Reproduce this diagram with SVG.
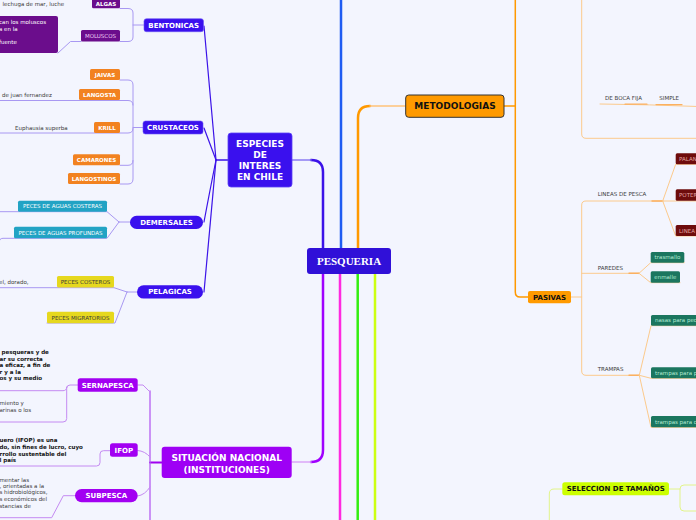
<svg xmlns="http://www.w3.org/2000/svg" width="696" height="520" viewBox="0 0 696 520">
<style>
.t{font-family:"DejaVu Sans","Liberation Sans",sans-serif}
.b{font-weight:bold}
.c{text-anchor:middle}
.s{font-size:5.5px}
.m{font-size:7px}
.l{font-size:9px}
.w{fill:#ffffff}
.g{fill:#3a3a3a}
.k{fill:#111111}
.ln{fill:none;stroke-linecap:round;stroke-linejoin:round}
.lv{stroke:#a898f2;stroke-width:1}
.lp{stroke:#c48af2;stroke-width:1}
.lo{stroke:#fcca8c;stroke-width:1}
.ly{stroke:#e2f48a;stroke-width:1}
</style>
<rect x="0" y="0" width="696" height="520" fill="#f3f5fe"/>
<g id="connectors">
  <path class="ln" d="M341,248 V0" stroke="#1f5cf2" stroke-width="2.5"/>
  <path class="ln" d="M358,248 V118 Q358,106 370,106" stroke="#ff9900" stroke-width="2.5"/>
  <path class="ln" d="M370,106 H405" stroke="#ffc27a" stroke-width="1.5"/>
  <path class="ln" d="M323,248 V172 Q323,160 311,160" stroke="#3b12e8" stroke-width="2.5"/>
  <path class="ln" d="M311,160 H292" stroke="#8c7cf2" stroke-width="1.5"/>
  <path class="ln" d="M323,274 V450 Q323,462 311,462" stroke="#a000ff" stroke-width="2.5"/>
  <path class="ln" d="M311,462 H292" stroke="#dba6f8" stroke-width="1.5"/>
  <path class="ln" d="M340,274 V522" stroke="#ff2ae0" stroke-width="2.5"/>
  <path class="ln" d="M357.7,274 V522" stroke="#33ee11" stroke-width="2.5"/>
  <path class="ln" d="M375,274 V522" stroke="#ccff11" stroke-width="2.5"/>

  <path class="ln" d="M228,160 H216" stroke="#3b12e8" stroke-width="1.5"/>
  <path class="ln" d="M216,160 L204,26" stroke="#3b12e8" stroke-width="1.2"/>
  <path class="ln" d="M216,160 L204,128" stroke="#3b12e8" stroke-width="1.2"/>
  <path class="ln" d="M216,160 Q209,195 204,222" stroke="#3b12e8" stroke-width="1.2"/>
  <path class="ln" d="M216,160 Q209,240 204,292" stroke="#3b12e8" stroke-width="1.2"/>

  <path class="ln lv" d="M144,25 H133"/>
  <path class="ln lv" d="M120,8.5 H128 Q133,8.5 133,13 V37 Q133,41.5 128,41.5 H120"/>
  <path class="ln lv" d="M81,41.5 H70.5 L58,53"/>

  <path class="ln lv" d="M143,127.5 H133"/>
  <path class="ln lv" d="M120,80 H128 Q133,80 133,85 V179 Q133,184 128,184 H120"/>
  <path class="ln lv" d="M-2,100.5 H128 Q133,100.5 133,105"/>
  <path class="ln lv" d="M-2,133 H128 Q133,133 133,128.5"/>
  <path class="ln lv" d="M120,165.3 H128 Q133,165.3 133,160.5"/>

  <path class="ln lv" d="M130,222 H119"/>
  <path class="ln lv" d="M119,222 L107,211.7 H-2"/>
  <path class="ln lv" d="M119,222 L107,238.3 H3 Q-1,238.3 -1,243"/>

  <path class="ln lv" d="M137,292 H127"/>
  <path class="ln lv" d="M127,292 L114,287.7 H-2"/>
  <path class="ln lv" d="M127,292 L115,323 H47"/>

  <path class="ln" d="M161.7,462.5 H150" stroke="#a000f0" stroke-width="2"/>
  <path class="ln" d="M150,391 V522" stroke="#b45cf2" stroke-width="1.3"/>
  <path class="ln lp" d="M137.7,385 H143 L150,392"/>
  <path class="ln lp" d="M137.7,450.5 Q145,451 150,457"/>
  <path class="ln lp" d="M137.7,496 Q145,495 150,487"/>
  <path class="ln lp" d="M77.7,385 H70 Q66.7,385 66.7,388.5 V418.5 Q66.7,422 63,422 H-2"/>
  <path class="ln lp" d="M-2,390.7 H63 Q66.7,390.7 66.7,387"/>
  <path class="ln lp" d="M110,450.7 H103.5 Q100,450.7 100,454 V462.5 Q100,466 96.5,466 H-2"/>
  <path class="ln lp" d="M75,495.7 H63.3 L51.7,517.7 H-2"/>

  <path class="ln" d="M504,106 H515.3" stroke="#ff9900" stroke-width="1.5"/>
  <path class="ln" d="M515.3,-2 V292 Q515.3,297 520,297 H528" stroke="#ff9900" stroke-width="1.5"/>
  <path class="ln lo" d="M581.7,-2 V134 Q581.7,138.3 586,138.3 H698"/>
  <path class="ln lo" d="M600,104 Q650,104.5 698,106.5"/>
  <path class="ln" d="M625,104.2 H647" stroke="#fbb060" stroke-width="1.2"/>
  <path class="ln" d="M656,104.6 H682" stroke="#fbb060" stroke-width="1.2"/>

  <path class="ln lo" d="M571,297 H581.7"/>
  <path class="ln lo" d="M662.7,201 H586 Q581.7,201 581.7,205 V371 Q581.7,375.3 586,375.3 H639.3"/>
  <path class="ln" d="M652,201 H662.7" stroke="#fbb060" stroke-width="1.4"/>
  <path class="ln lo" d="M581.7,273.3 H639"/>
  <path class="ln" d="M629,273.3 H639" stroke="#fbb060" stroke-width="1.4"/>
  <path class="ln" d="M629,375.3 H639.3" stroke="#fbb060" stroke-width="1.4"/>
  <path class="ln lo" d="M662.7,201 L675.7,164.3 H698"/>
  <path class="ln lo" d="M662.7,201 H698"/>
  <path class="ln lo" d="M662.7,201 L675.7,236 H698"/>
  <path class="ln lo" d="M639,273.3 L650.7,262.7 H684.3"/>
  <path class="ln lo" d="M639,273.3 L650.7,282.7 H680"/>
  <path class="ln lo" d="M639.3,375.3 L651,325.7 H698"/>
  <path class="ln lo" d="M639.3,375.3 L651,378.3 H698"/>
  <path class="ln lo" d="M639.3,375.3 L651,427.3 H698"/>

  <path class="ln ly" d="M562.3,489 H554 Q549.3,489 549.3,494 V522"/>
  <path class="ln ly" d="M669,489 H680"/>
  <path class="ln ly" d="M698,485 H684 Q680,485 680,489 V507 Q680,511 684,511 H698"/>
</g>

<g id="pesqueria">
  <rect x="307" y="248" width="84" height="26" rx="3" fill="#3010d8"/>
  <text x="349" y="265" font-family="'Liberation Serif',serif" font-weight="bold" font-size="11" fill="#ffffff" text-anchor="middle">PESQUERIA</text>
</g>

<g id="especies">
  <rect x="228" y="133" width="64" height="54" rx="3" fill="#3a10ee" stroke="#5a42f5" stroke-width="0.8"/>
  <text class="t b c l w" x="260" y="147">ESPECIES</text>
  <text class="t b c l w" x="260" y="158.2">DE</text>
  <text class="t b c l w" x="260" y="169">INTERES</text>
  <text class="t b c l w" x="260" y="180">EN CHILE</text>
</g>

<g id="bentonicas">
  <rect x="144" y="18.7" width="59.5" height="13" rx="2.5" fill="#3a10ee" stroke="#6a54f5" stroke-width="0.6"/>
  <text class="t b c m w" x="173.7" y="27.7">BENTONICAS</text>
</g>
<g id="algas">
  <rect x="92" y="-1" width="28" height="9.3" rx="1.5" fill="#6b0d8c"/>
  <text class="t b c s w" x="106" y="6">ALGAS</text>
  <text class="t s g" x="2.5" y="5.5">lechuga de mar, luche</text>
</g>
<g id="moluscos">
  <rect x="81" y="30" width="39" height="11.5" rx="1.5" fill="#6b0d8c"/>
  <text class="t c s" x="100.5" y="37.7" fill="#f0cdf5">MOLUSCOS</text>
</g>
<g id="moluscos-nota">
  <rect x="-5" y="16" width="63" height="37" rx="2" fill="#6b0d8c"/>
  <text class="t s w" x="-1" y="24.2">can los moluscos</text>
  <text class="t s w" x="-1" y="31">a en la</text>
  <text class="t s w" x="-1" y="44.3">fuente</text>
</g>

<g id="crustaceos">
  <rect x="143" y="121" width="60" height="13" rx="2.5" fill="#3a10ee" stroke="#6a54f5" stroke-width="0.6"/>
  <text class="t b c m w" x="173" y="130">CRUSTACEOS</text>
</g>
<g id="jaivas">
  <rect x="90" y="69" width="30" height="11" rx="1.5" fill="#f28220"/>
  <text class="t b c s w" x="105" y="76.5">JAIVAS</text>
</g>
<g id="langosta">
  <rect x="79" y="89" width="41" height="11" rx="1.5" fill="#f28220"/>
  <text class="t b c s w" x="99.5" y="96.5">LANGOSTA</text>
  <text class="t s g" x="2" y="97">de juan fernandez</text>
</g>
<g id="krill">
  <rect x="94" y="122" width="26" height="11" rx="1.5" fill="#f28220"/>
  <text class="t b c s w" x="107" y="129.5">KRILL</text>
  <text class="t s g" x="15" y="130">Euphausia superba</text>
</g>
<g id="camarones">
  <rect x="73" y="154.3" width="47" height="11" rx="1.5" fill="#f28220"/>
  <text class="t b c s w" x="96.5" y="161.8">CAMARONES</text>
</g>
<g id="langostinos">
  <rect x="68" y="173" width="52" height="11" rx="1.5" fill="#f28220"/>
  <text class="t b c s w" x="94" y="180.5">LANGOSTINOS</text>
</g>

<g id="demersales">
  <rect x="130" y="215.7" width="73" height="13.3" rx="6.6" fill="#3a10ee"/>
  <text class="t b c m w" x="166.5" y="224.8">DEMERSALES</text>
</g>
<g id="costeras">
  <rect x="18" y="200.7" width="89" height="11" rx="1.5" fill="#22a3c4"/>
  <text class="t c s w" x="62.5" y="208.3">PECES DE AGUAS COSTERAS</text>
</g>
<g id="profundas">
  <rect x="14" y="226.7" width="93" height="11.6" rx="1.5" fill="#22a3c4"/>
  <text class="t c s w" x="60.5" y="234.5">PECES DE AGUAS PROFUNDAS</text>
</g>

<g id="pelagicas">
  <rect x="137" y="285.3" width="66" height="13.3" rx="6.6" fill="#3a10ee"/>
  <text class="t b c m w" x="170" y="294.4">PELAGICAS</text>
</g>
<g id="peces-costeros">
  <rect x="57" y="276" width="57" height="11.5" rx="1.5" fill="#e6d81e"/>
  <text class="t c s g" x="85.5" y="283.8">PECES COSTEROS</text>
  <text class="t s g" x="-1" y="283.7">el, dorado,</text>
</g>
<g id="peces-migratorios">
  <rect x="47" y="311.7" width="67" height="11.5" rx="1.5" fill="#e6d81e"/>
  <text class="t c s g" x="80.5" y="319.5">PECES MIGRATORIOS</text>
</g>

<g id="situacion">
  <rect x="161.7" y="446.7" width="130" height="31.3" rx="3" fill="#9e00f5"/>
  <text class="t b c l w" x="226.7" y="461">SITUACIÓN NACIONAL</text>
  <text class="t b c l w" x="226.7" y="472.5">(INSTITUCIONES)</text>
</g>
<g id="sernapesca">
  <rect x="77.7" y="378.3" width="60" height="13.4" rx="2.5" fill="#a200f2"/>
  <text class="t b c m w" x="107.7" y="387.5">SERNAPESCA</text>
</g>
<g id="sernapesca-nota1">
  <text class="t b s k" x="1.5" y="354.3">pesqueras y de</text>
  <text class="t b s k" x="-0.5" y="361">ar su correcta</text>
  <text class="t b s k" x="-0.5" y="367">a eficaz, a fin de</text>
  <text class="t b s k" x="-0.5" y="374.3">r y a la</text>
  <text class="t b s k" x="-0.5" y="380.3">os y su medio</text>
</g>
<g id="sernapesca-nota2">
  <text class="t s g" x="-0.5" y="405.3">miento y</text>
  <text class="t s g" x="-0.5" y="412.3">arinas o los</text>
</g>
<g id="ifop">
  <rect x="110" y="443.3" width="27.7" height="13.4" rx="2.5" fill="#a200f2"/>
  <text class="t b c m w" x="123.8" y="452.5">IFOP</text>
</g>
<g id="ifop-nota">
  <text class="t b s k" x="-0.5" y="442.3">uero (IFOP) es una</text>
  <text class="t b s k" x="-0.5" y="449">do, sin fines de lucro, cuyo</text>
  <text class="t b s k" x="-0.5" y="455.7">rrollo sustentable del</text>
  <text class="t b s k" x="-0.5" y="462">l país</text>
</g>
<g id="subpesca">
  <rect x="75" y="489" width="62.7" height="13.3" rx="6.6" fill="#a200f2"/>
  <text class="t b c m w" x="106.3" y="498.2">SUBPESCA</text>
</g>
<g id="subpesca-nota">
  <text class="t s g" x="-0.5" y="481.7">mentar las</text>
  <text class="t s g" x="-0.5" y="487.7">, orientadas a la</text>
  <text class="t s g" x="-0.5" y="494.3">s hidrobiológicos,</text>
  <text class="t s g" x="-0.5" y="501">s económicos del</text>
  <text class="t s g" x="-0.5" y="507.7">stancias de</text>
</g>

<g id="metodologias">
  <rect x="405.7" y="95" width="98.3" height="22.3" rx="3" fill="#ff9a00" stroke="#333333" stroke-width="1"/>
  <text class="t b c l k" x="455" y="109.3">METODOLOGIAS</text>
</g>
<g id="boca-fija">
  <text class="t s g" x="605" y="99.7">DE BOCA FIJA</text>
</g>
<g id="simple">
  <text class="t s g" x="659.3" y="99.7">SIMPLE</text>
</g>
<g id="pasivas">
  <rect x="528" y="291" width="43" height="12.3" rx="2" fill="#ff9a00"/>
  <text class="t b c m k" x="549.5" y="299.7">PASIVAS</text>
</g>
<g id="lineas-de-pesca">
  <text class="t s g" x="597.7" y="196.3">LINEAS DE PESCA</text>
</g>
<g id="palan">
  <rect x="675.7" y="153.3" width="30" height="11" rx="1.5" fill="#6e0c0c"/>
  <text class="t s" x="679" y="160.8" fill="#e2a2a2">PALAN</text>
</g>
<g id="poter">
  <rect x="675.7" y="189.3" width="30" height="11.4" rx="1.5" fill="#6e0c0c"/>
  <text class="t s" x="679" y="197" fill="#e2a2a2">POTER</text>
</g>
<g id="linea">
  <rect x="675.7" y="225" width="30" height="11" rx="1.5" fill="#6e0c0c"/>
  <text class="t s" x="679" y="232.5" fill="#e2a2a2">LINEA</text>
</g>
<g id="paredes">
  <text class="t s g" x="597.7" y="269.7">PAREDES</text>
</g>
<g id="trasmallo">
  <rect x="650.7" y="252" width="33.6" height="10.7" rx="1.5" fill="#1b765f"/>
  <text class="t c s" x="667.5" y="259.3" fill="#b0ead2">trasmallo</text>
</g>
<g id="enmalle">
  <rect x="650.7" y="271.3" width="29.3" height="11.4" rx="1.5" fill="#1b765f"/>
  <text class="t c s" x="665.3" y="279" fill="#b0ead2">enmalle</text>
</g>
<g id="trampas">
  <text class="t s g" x="597.7" y="371">TRAMPAS</text>
</g>
<g id="nasas">
  <rect x="651" y="315" width="50" height="10.7" rx="1.5" fill="#1b765f"/>
  <text class="t s" x="655" y="322.3" fill="#b0ead2">nasas para pec</text>
</g>
<g id="trampas-p">
  <rect x="651" y="367.3" width="50" height="11" rx="1.5" fill="#1b765f"/>
  <text class="t s" x="655" y="374.8" fill="#b0ead2">trampas para p</text>
</g>
<g id="trampas-c">
  <rect x="651" y="416" width="50" height="11.3" rx="1.5" fill="#1b765f"/>
  <text class="t s" x="655" y="423.7" fill="#b0ead2">trampas para c</text>
</g>
<g id="seleccion">
  <rect x="562.3" y="482.3" width="106.7" height="13" rx="2.5" fill="#ccff00"/>
  <text class="t b c m k" x="615.7" y="491.3">SELECCION DE TAMAÑOS</text>
</g>
</svg>
